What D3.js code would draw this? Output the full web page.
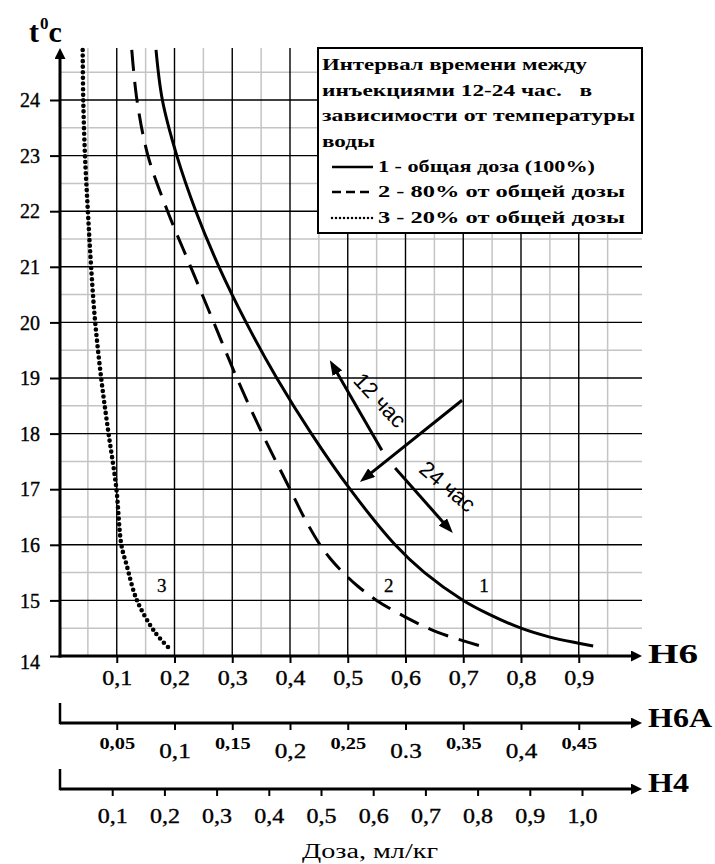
<!DOCTYPE html>
<html lang="ru">
<head>
<meta charset="utf-8">
<script src="https://d3js.org/d3.v7.min.js"></script>
<style>
  body { margin: 0; background: #fff; }
  svg { display: block; font-family: "Liberation Serif", "Times New Roman", serif; }
  .grid-minor { stroke: #c4c4c4; stroke-width: 1.5; }
  .grid-major { stroke: #000; stroke-width: 1.4; }
  .axis-line { stroke: #000; stroke-width: 3; fill: none; }
  .pre { white-space: pre; }
</style>
</head>
<body>
<div id="chart"></div>
<script>
// ---- data ----
const tempTicks = [14, 15, 16, 17, 18, 19, 20, 21, 22, 23, 24];
const h6Ticks = [0.1, 0.2, 0.3, 0.4, 0.5, 0.6, 0.7, 0.8, 0.9];
const h6Labels = ["0,1", "0,2", "0,3", "0,4", "0,5", "0,6", "0,7", "0,8", "0,9"];
const h6aTicks = [0.05, 0.1, 0.15, 0.2, 0.25, 0.3, 0.35, 0.4, 0.45];
const h6aLabels = ["0,05", "0,1", "0,15", "0,2", "0,25", "0.3", "0,35", "0,4", "0,45"];
const h4Ticks = [0.1, 0.2, 0.3, 0.4, 0.5, 0.6, 0.7, 0.8, 0.9, 1.0];
const h4Labels = ["0,1", "0,2", "0,3", "0,4", "0,5", "0,6", "0,7", "0,8", "0,9", "1,0"];

// curve 1 - full dose (100%)
const dose100 = [0.168, 0.179, 0.204, 0.237, 0.277, 0.324, 0.377, 0.437, 0.504, 0.582, 0.633, 0.70, 0.745, 0.80, 0.85, 0.90, 0.925];
const temp100 = [24.9, 24, 23, 22, 21, 20, 19, 18, 17, 16, 15.5, 15, 14.75, 14.5, 14.34, 14.23, 14.18];
// curve 2 - 80% of dose
const dose80 = [0.126, 0.135, 0.154, 0.188, 0.228, 0.268, 0.308, 0.352, 0.40, 0.424, 0.452, 0.47, 0.492, 0.518, 0.55, 0.60, 0.655, 0.73];
const temp80 = [24.9, 24, 23, 22, 21, 20, 19, 18, 17, 16.5, 16, 15.75, 15.5, 15.25, 15.0, 14.7, 14.43, 14.18];
// curve 3 - 20% of dose
const dose20 = [0.041, 0.042, 0.045, 0.05, 0.055, 0.062, 0.073, 0.085, 0.099, 0.108, 0.117, 0.135, 0.166, 0.189];
const temp20 = [24.9, 24, 23, 22, 21.1, 20.08, 19.0, 18.06, 17.04, 16, 15.64, 15, 14.43, 14.16];

const curveLabels = ["1", "2", "3"];
const curveLabelDose = [0.736, 0.571, 0.178];
const curveLabelTemp = [15.28, 15.28, 15.28];

const legendTitle = ["Интервал времени между", "инъекциями 12-24 час.   в", "зависимости от температуры", "воды"];
const legendItems = ["1 - общая доза (100%)", "2 - 80% от общей дозы", "3 - 20% от общей дозы"];

// annotation arrows: start (dose, temp) -> tip (dose, temp)
const arrowFromDose = [0.559, 0.698, 0.582];
const arrowFromTemp = [17.7, 18.6, 17.38];
const arrowToDose = [0.469, 0.521, 0.682];
const arrowToTemp = [19.32, 17.13, 16.21];
const arrowTexts = ["12 час", "24 час"];
const arrowTextDose = [0.556, 0.673];
const arrowTextTemp = [18.6, 17.05];

// ---- layout ----
const W = 715, H = 864;
const svg = d3.select("#chart").append("svg").attr("width", W).attr("height", H);

const x = d3.scaleLinear().domain([0, 1]).range([59, 636.5]);      // H6
const xA = d3.scaleLinear().domain([0, 0.5]).range([59, 636.5]);   // H6A
const x4 = d3.scaleLinear().domain([0, 1]).range([60, 582]);       // H4
const y = d3.scaleLinear().domain([14, 24]).range([656, 100]);

const axisY0 = y(14), axisX0 = 60;
const gridTop = 48, gridRight = 642, tipX = 642;
const axisA = 723, axis4 = 789;

const defs = svg.append("defs");
function marker(id, len, half) {
  defs.append("marker").attr("id", id)
    .attr("markerUnits", "userSpaceOnUse")
    .attr("viewBox", `0 0 ${len} ${half * 2}`)
    .attr("refX", 2).attr("refY", half)
    .attr("markerWidth", len).attr("markerHeight", half * 2)
    .attr("orient", "auto")
    .append("path").attr("d", `M0,0L${len},${half}L0,${half * 2}Z`).attr("fill", "#000");
}
marker("axisHead", 11, 5.5);
marker("noteHead", 15, 5.5);

// ---- grid ----
const grid = svg.append("g");
const minorT = d3.range(14.5, 25, 1);
const majorT = tempTicks.slice(1);
const minorD = d3.range(0.05, 1, 0.1);
const majorD = h6Ticks;

grid.selectAll(".mh").data(minorT).join("line").attr("class", "grid-minor")
  .attr("x1", axisX0).attr("x2", gridRight).attr("y1", d => y(d)).attr("y2", d => y(d));
grid.selectAll(".mv").data(minorD).join("line").attr("class", "grid-minor")
  .attr("y1", gridTop).attr("y2", axisY0).attr("x1", d => x(d)).attr("x2", d => x(d));
grid.selectAll(".Mh").data(majorT).join("line").attr("class", "grid-major")
  .attr("x1", axisX0).attr("x2", gridRight).attr("y1", d => y(d)).attr("y2", d => y(d));
grid.selectAll(".Mv").data(majorD).join("line").attr("class", "grid-major")
  .attr("y1", gridTop).attr("y2", axisY0).attr("x1", d => x(d)).attr("x2", d => x(d));

// ---- legend box (drawn over the grid) ----
const leg = svg.append("g");
leg.append("rect").attr("x", 318).attr("y", 48).attr("width", 324).attr("height", 185)
  .attr("fill", "#fff").attr("stroke", "#000").attr("stroke-width", 2);
const titleLen = [265, 270, 313, 53];
const titleBase = [70, 95.5, 121, 146.5];
leg.selectAll(".lt").data(legendTitle).join("text").attr("class", "pre")
  .attr("x", 322).attr("y", (d, i) => titleBase[i])
  .attr("font-size", 17).attr("font-weight", "bold")
  .attr("textLength", (d, i) => titleLen[i]).attr("lengthAdjust", "spacingAndGlyphs")
  .text(d => d);
const itemLen = [217, 247, 247];
const itemBase = [172, 197, 223];
const itemDash = [null, "9 5", "0 4"];
leg.selectAll(".li").data(legendItems).join("text")
  .attr("x", 378).attr("y", (d, i) => itemBase[i])
  .attr("font-size", 17).attr("font-weight", "bold")
  .attr("textLength", (d, i) => itemLen[i]).attr("lengthAdjust", "spacingAndGlyphs")
  .text(d => d);
leg.selectAll(".ls").data(legendItems).join("line")
  .attr("x1", 332).attr("x2", 373)
  .attr("y1", (d, i) => itemBase[i] - 5).attr("y2", (d, i) => itemBase[i] - 5)
  .attr("stroke", "#000").attr("stroke-width", 2.5)
  .attr("stroke-linecap", (d, i) => i === 2 ? "round" : "butt")
  .attr("stroke-dasharray", (d, i) => itemDash[i]);

// ---- curves ----
const line = d3.line().x(d => x(d[0])).y(d => y(d[1])).curve(d3.curveCatmullRom.alpha(0.5));
const curves = svg.append("g").attr("fill", "none").attr("stroke", "#000");
curves.append("path").datum(d3.zip(dose100, temp100)).attr("d", line).attr("stroke-width", 3);
curves.append("path").datum(d3.zip(dose80, temp80)).attr("d", line).attr("stroke-width", 3)
  .attr("stroke-dasharray", "21 11");
curves.append("path").datum(d3.zip(dose20, temp20)).attr("d", line).attr("stroke-width", 4.6)
  .attr("stroke-linecap", "round").attr("stroke-dasharray", "0 5.6");

svg.selectAll(".cl").data(curveLabels).join("text")
  .attr("x", (d, i) => x(curveLabelDose[i])).attr("y", (d, i) => y(curveLabelTemp[i]) + 7)
  .attr("text-anchor", "middle").attr("font-size", 19)
  .attr("stroke", "#000").attr("stroke-width", 0.3).text(d => d);

// ---- annotation arrows ----
const notes = svg.append("g");
notes.selectAll("line").data(arrowFromDose).join("line")
  .attr("x1", (d, i) => x(d)).attr("y1", (d, i) => y(arrowFromTemp[i]))
  .attr("x2", (d, i) => {
    const x1 = x(d), y1 = y(arrowFromTemp[i]), x2 = x(arrowToDose[i]), y2 = y(arrowToTemp[i]);
    const L = Math.hypot(x2 - x1, y2 - y1); return x2 - (x2 - x1) / L * 13;
  })
  .attr("y2", (d, i) => {
    const x1 = x(d), y1 = y(arrowFromTemp[i]), x2 = x(arrowToDose[i]), y2 = y(arrowToTemp[i]);
    const L = Math.hypot(x2 - x1, y2 - y1); return y2 - (y2 - y1) / L * 13;
  })
  .attr("stroke", "#000").attr("stroke-width", 3).attr("marker-end", "url(#noteHead)");
const noteAngle = [47, 40];
notes.selectAll("text").data(arrowTexts).join("text")
  .attr("transform", (d, i) => `translate(${x(arrowTextDose[i])},${y(arrowTextTemp[i])}) rotate(${noteAngle[i]})`)
  .attr("text-anchor", "middle").attr("dy", "0.35em")
  .attr("font-family", "'Liberation Sans', Arial, sans-serif").attr("font-size", 22)
  .text(d => d);

// ---- main axes ----
const yAxis = svg.append("g").attr("transform", `translate(${axisX0},0)`)
  .call(d3.axisLeft(y).tickValues(tempTicks).tickSize(10).tickPadding(10).tickFormat(d3.format("d")));
yAxis.select(".domain").remove();
yAxis.selectAll(".tick line").attr("stroke-width", 2);
yAxis.selectAll(".tick text").attr("font-size", 20).attr("font-family", "'Liberation Serif', serif")
  .attr("fill", "#000").attr("stroke", "#000").attr("stroke-width", 0.35)
  .attr("dy", (d) => d === 14 ? "0.6em" : "0.33em");

const xAxis = svg.append("g").attr("transform", `translate(0,${axisY0})`)
  .call(d3.axisBottom(x).tickValues(h6Ticks).tickSize(7).tickPadding(8).tickFormat((d, i) => h6Labels[i]));
xAxis.select(".domain").remove();
xAxis.selectAll(".tick line").attr("stroke-width", 2);
xAxis.selectAll(".tick text").attr("font-size", 20).attr("font-family", "'Liberation Serif', serif")
  .attr("fill", "#000").attr("stroke", "#000").attr("stroke-width", 0.35)
  .attr("transform", "scale(1.2,1)");

svg.append("line").attr("class", "axis-line")
  .attr("x1", axisX0).attr("x2", axisX0).attr("y1", axisY0 + 1.5).attr("y2", gridTop + 9)
  .attr("marker-end", "url(#axisHead)");
svg.append("line").attr("class", "axis-line")
  .attr("x1", axisX0 - 1.5).attr("x2", tipX - 9).attr("y1", axisY0).attr("y2", axisY0)
  .attr("marker-end", "url(#axisHead)");

// ---- secondary dose axes ----
function secondary(scale, yPos, ticks, labels) {
  const g = svg.append("g").attr("transform", `translate(0,${yPos})`)
    .call(d3.axisBottom(scale).tickValues(ticks).tickSize(7).tickPadding(8).tickFormat((d, i) => labels[i]));
  g.select(".domain").remove();
  g.selectAll(".tick line").attr("stroke-width", 2);
  g.selectAll(".tick text").attr("font-family", "'Liberation Serif', serif").attr("fill", "#000");
  g.append("line").attr("class", "axis-line").attr("stroke-width", 2.5)
    .attr("x1", axisX0).attr("x2", tipX - 9).attr("y1", 0).attr("y2", 0)
    .attr("marker-end", "url(#axisHead)");
  g.append("line").attr("stroke", "#000").attr("stroke-width", 2.5)
    .attr("x1", axisX0).attr("x2", axisX0).attr("y1", -20).attr("y2", 1.2);
  return g;
}
const gA = secondary(xA, axisA, h6aTicks, h6aLabels);
gA.selectAll(".tick text")
  .attr("dy", 0)
  .attr("y", (d, i) => i % 2 === 0 ? 26 : 35)
  .attr("font-size", (d, i) => i % 2 === 0 ? 17 : 21)
  .attr("font-weight", (d, i) => i % 2 === 0 ? "bold" : "normal")
  .attr("stroke", "#000").attr("stroke-width", (d, i) => i % 2 === 0 ? 0 : 0.35)
  .attr("transform", "scale(1.2,1)");
const g4 = secondary(x4, axis4, h4Ticks, h4Labels);
g4.selectAll(".tick text").attr("dy", 0).attr("y", 34).attr("font-size", 20)
  .attr("stroke", "#000").attr("stroke-width", 0.35)
  .attr("transform", "scale(1.2,1)");

// ---- axis names ----
const names = [["H6", axisY0 + 7, 50], ["H6A", axisA + 4, 64], ["H4", axis4 + 3, 41]];
svg.selectAll(".an").data(names).join("text")
  .attr("x", 648).attr("y", d => d[1]).attr("font-size", 28).attr("font-weight", "bold")
  .attr("textLength", d => d[2]).attr("lengthAdjust", "spacingAndGlyphs")
  .text(d => d[0]);

svg.append("text").attr("x", 370).attr("y", 858).attr("text-anchor", "middle")
  .attr("font-size", 20).attr("textLength", 136).attr("lengthAdjust", "spacingAndGlyphs")
  .text("Доза, мл/кг");

const tl = svg.append("text").attr("x", 29).attr("y", 42).attr("font-size", 30).attr("font-weight", "bold");
tl.append("tspan").text("t");
tl.append("tspan").attr("font-size", 17).attr("dy", -13).attr("dx", 1).text("0");
tl.append("tspan").attr("dy", 13).text("c");
</script>
</body>
</html>
